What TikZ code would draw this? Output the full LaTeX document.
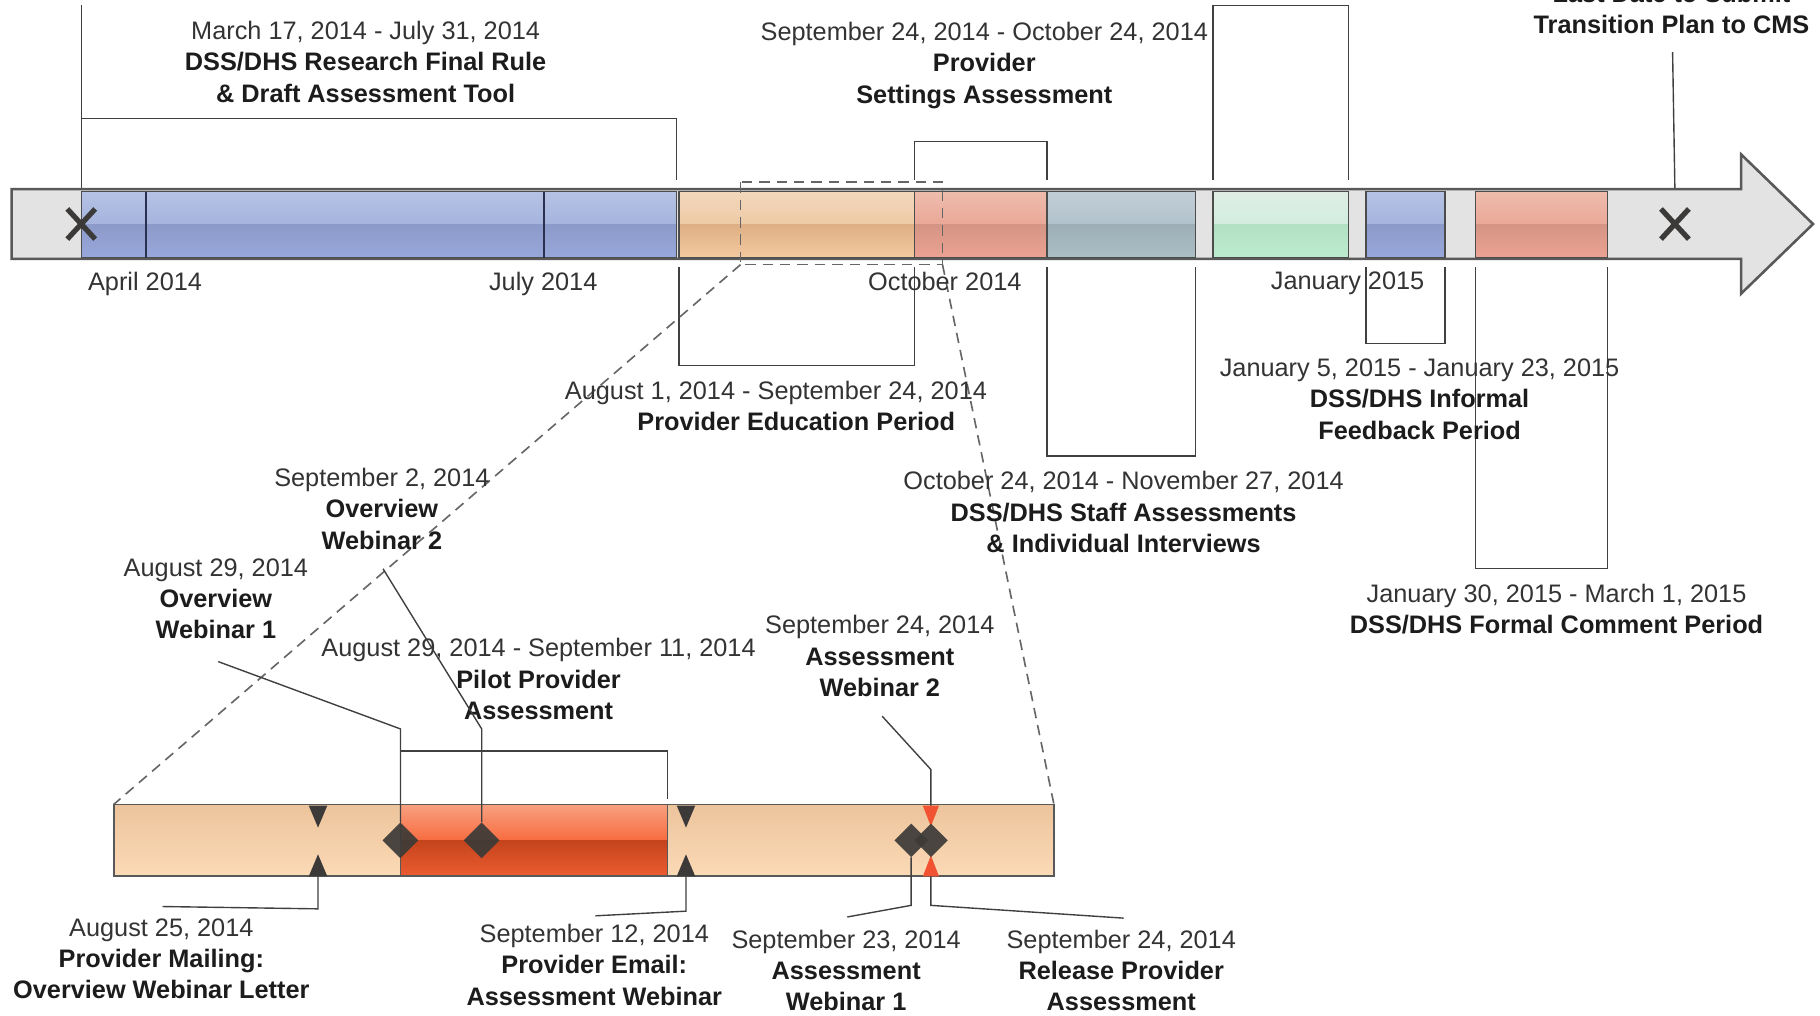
\documentclass[tikz,border=0pt]{standalone}
\usepackage{fontspec}
\setmainfont{Liberation Sans}
\usetikzlibrary{shapes.geometric}
\definecolor{dk}{HTML}{3C3A38}
\definecolor{redm}{HTML}{F05232}
\definecolor{txt}{HTML}{333333}
\definecolor{bld}{HTML}{1C1C1C}
\definecolor{linec}{HTML}{404040}
\definecolor{blA}{HTML}{B6C2E4}\definecolor{blB}{HTML}{A6B4DE}\definecolor{blC}{HTML}{8C9ACA}\definecolor{blD}{HTML}{98A8DA}
\definecolor{tnA}{HTML}{F2D8BC}\definecolor{tnB}{HTML}{EECAA6}\definecolor{tnC}{HTML}{DFAE84}\definecolor{tnD}{HTML}{F4CAA0}
\definecolor{slA}{HTML}{EEBCAC}\definecolor{slB}{HTML}{EAA898}\definecolor{slC}{HTML}{D49484}\definecolor{slD}{HTML}{ECA292}
\definecolor{gbA}{HTML}{C2CED6}\definecolor{gbB}{HTML}{B2C2CC}\definecolor{gbC}{HTML}{9EAEB6}\definecolor{gbD}{HTML}{AABEC6}
\definecolor{grA}{HTML}{E0EEE4}\definecolor{grB}{HTML}{D2ECE0}\definecolor{grC}{HTML}{B2E0C2}\definecolor{grD}{HTML}{BCECCE}
\definecolor{monl}{HTML}{2A3050}
\definecolor{bbA}{HTML}{ECC49C}\definecolor{bbB}{HTML}{FBDAB6}
\definecolor{rdA}{HTML}{F8A080}\definecolor{rdB}{HTML}{F86C40}\definecolor{rdC}{HTML}{C4441C}\definecolor{rdD}{HTML}{EC5C32}
\newcommand\glossseg[7]{%
  \shade[top color=#3,bottom color=#4] (#1,165) rectangle (#2,193);
  \shade[top color=#5,bottom color=#6] (#1,193) rectangle (#2,222);
  \draw[#7,line width=1.2pt] (#1,165) rectangle (#2,222);
}
\tikzset{
  lbl/.style={align=center, inner sep=0pt, anchor=north, text=txt,
    font=\fontsize{21.8}{27}\selectfont},
  conn/.style={draw=linec, line width=1.2pt},
  zoomline/.style={draw=black!60, line width=1.4pt, dash pattern=on 9pt off 6pt},
  xmark/.style={draw=dk, line width=4.5pt},
  dia/.style={diamond, fill=dk, fill opacity=0.92, inner sep=0pt, minimum size=31pt},
}
\begin{document}
\begin{tikzpicture}[x=1pt,y=-1pt]
\useasboundingbox (0,0) rectangle (1568,875);
\fill[white] (0,0) rectangle (1568,875);

% ---------- brackets / lines behind the bar ----------
\draw[conn] (70,4) -- (70,163);
\draw[conn] (70,155) -- (70,102) -- (583,102) -- (583,155);
\draw[conn] (788,155) -- (788,122) -- (902,122) -- (902,155);
\draw[conn] (1045,155) -- (1045,5) -- (1162,5) -- (1162,155);
\draw[conn] (1441,45) -- (1443,165);

\draw[conn] (585,230) -- (585,315) -- (788,315) -- (788,230);
\draw[conn] (902,230) -- (902,393) -- (1030,393) -- (1030,230);
\draw[conn] (1177,230) -- (1177,296) -- (1245,296) -- (1245,230);
\draw[conn] (1271,230) -- (1271,490) -- (1385,490) -- (1385,230);

% ---------- main arrow ----------
\path[fill=black!11, draw=black!65, line width=2.2pt, line join=miter]
  (10,163) -- (1500,163) -- (1500,133) -- (1562,193) -- (1500,253) -- (1500,223) -- (10,223) -- cycle;

\glossseg{70}{583}{blA}{blB}{blC}{blD}{draw=black!70}
\glossseg{585}{788}{tnA}{tnB}{tnC}{tnD}{draw=black!70}
\glossseg{788}{902}{slA}{slB}{slC}{slD}{draw=black!70}
\glossseg{902}{1030}{gbA}{gbB}{gbC}{gbD}{draw=black!70}
\glossseg{1045}{1162}{grA}{grB}{grC}{grD}{draw=black!70}
\glossseg{1177}{1245}{blA}{blB}{blC}{blD}{draw=black!70}
\glossseg{1271}{1385}{slA}{slB}{slC}{slD}{draw=black!70}
\draw[draw=monl, line width=1.6pt] (126,165) -- (126,222) (469,165) -- (469,222);

\coordinate (x1) at (70,193);
\coordinate (x2) at (1443,193);
\draw[xmark] ([shift={(-12,-13)}]x1) -- ([shift={(12,13)}]x1)
             ([shift={(-12,13)}]x1) -- ([shift={(12,-13)}]x1);
\draw[xmark] ([shift={(-12,-13)}]x2) -- ([shift={(12,13)}]x2)
             ([shift={(-12,13)}]x2) -- ([shift={(12,-13)}]x2);

% ---------- zoom ----------
\coordinate (za) at (638,157);
\coordinate (zb) at (812,228);
\coordinate (zc) at (638,228);
\draw[zoomline] (za) rectangle (zb);

\coordinate (ba) at (98,693);
\coordinate (bb) at (908,693);
\draw[zoomline] (zc) -- (ba);
\draw[zoomline] (zb) -- (bb);

% ---------- bottom bar ----------
\shade[top color=bbA, bottom color=bbB] (98,693) rectangle (908,755);
\shade[top color=rdA, bottom color=rdB] (345,693) rectangle (575,724);
\shade[top color=rdC, bottom color=rdD] (345,724) rectangle (575,755);
\draw[black!65, line width=1.5pt] (98,693) rectangle (908,755);
\draw[black!65, line width=1.2pt] (345,693) -- (345,755) (575,693) -- (575,755);
\draw[conn] (345,688) -- (345,647) -- (575,647) -- (575,688);

% triangles
\fill[dk] (266,694) -- (282,694) -- (274,713) -- cycle;
\fill[dk] (266,755) -- (282,755) -- (274,736) -- cycle;
\fill[dk] (583,694) -- (599,694) -- (591,713) -- cycle;
\fill[dk] (583,755) -- (599,755) -- (591,736) -- cycle;
\fill[redm] (795,694) -- (809,694) -- (802,712) -- cycle;
\fill[redm] (795,755) -- (809,755) -- (802,737) -- cycle;
\coordinate (t1) at (274,755);
\coordinate (t2) at (591,755);
\coordinate (t3) at (802,694);
\coordinate (t4) at (802,755);

% diamonds
\node[dia] (d1) at (345,724) {};
\node[dia] (d2) at (415,724) {};
\node[dia, minimum size=29pt] (d3) at (785,724) {};
\node[dia, minimum size=29pt] (d4) at (802,724) {};

% ---------- labels ----------
\node[lbl] (l1) at (315,18) {March 17, 2014 - July 31, 2014\\\textbf{\color{bld}DSS/DHS Research Final Rule}\\\textbf{\color{bld}\& Draft Assessment Tool}};
\node[lbl] (l2) at (848,19) {September 24, 2014 - October 24, 2014\\\textbf{\color{bld}Provider}\\\textbf{\color{bld}Settings Assessment}};
\node[lbl] (l3) at (1440,-14) {\textbf{\color{bld}Last Date to Submit}\\\textbf{\color{bld}Transition Plan to CMS}};
\node[lbl] (l4) at (686,328) {August 1, 2014 - September 24, 2014\hspace*{35pt}\\\textbf{\color{bld}Provider Education Period}};
\node[lbl] (l5) at (1223,309) {January 5, 2015 - January 23, 2015\\\textbf{\color{bld}DSS/DHS Informal}\\\textbf{\color{bld}Feedback Period}};
\node[lbl] (l6) at (968,406) {October 24, 2014 - November 27, 2014\\\textbf{\color{bld}DSS/DHS Staff Assessments}\\\textbf{\color{bld}\& Individual Interviews}};
\node[lbl] (l7) at (1341,503) {January 30, 2015 - March 1, 2015\\\textbf{\color{bld}DSS/DHS Formal Comment Period}};

\node[lbl] (ma) at (125,234) {April 2014};
\node[lbl] (mb) at (468,234) {July 2014};
\node[lbl] (mc) at (814,234) {October 2014};
\node[lbl] (md) at (1161,234) {January 2015};

\node[lbl] (l8) at (329,403) {September 2, 2014\\\textbf{\color{bld}Overview}\\\textbf{\color{bld}Webinar 2}};
\node[lbl] (l9) at (186,481) {August 29, 2014\\\textbf{\color{bld}Overview}\\\textbf{\color{bld}Webinar 1}};
\node[lbl] (l10) at (464,550) {August 29, 2014 - September 11, 2014\\\textbf{\color{bld}Pilot Provider}\\\textbf{\color{bld}Assessment}};
\node[lbl] (l11) at (758,530) {September 24, 2014\\\textbf{\color{bld}Assessment}\\\textbf{\color{bld}Webinar 2}};
\node[lbl] (l12) at (139,791) {August 25, 2014\\\textbf{\color{bld}Provider Mailing:}\\\textbf{\color{bld}Overview Webinar Letter}};
\node[lbl] (l13) at (512,796) {September 12, 2014\\\textbf{\color{bld}Provider Email:}\\\textbf{\color{bld}Assessment Webinar}};
\node[lbl] (l14) at (729,801) {September 23, 2014\\\textbf{\color{bld}Assessment}\\\textbf{\color{bld}Webinar 1}};
\node[lbl] (l15) at (966,801) {September 24, 2014\\\textbf{\color{bld}Release Provider}\\\textbf{\color{bld}Assessment}};

% ---------- connectors ----------
\coordinate (c9) at (188,570);
\coordinate (c8) at (330,490);
\coordinate (c11) at (760,617);
\coordinate (c12) at (140,781);
\coordinate (c13) at (513,789);
\coordinate (c14) at (730,790);
\coordinate (c15) at (968,791);
\draw[conn] (c9) -- (345,628) -- (d1.north);
\draw[conn] (c8) -- (415,628) -- (d2.north);
\draw[conn] (c11) -- (802,663) -- (t3);
\draw[conn] (t1) -- (274,783) -- (c12);
\draw[conn] (t2) -- (591,785) -- (c13);
\draw[conn] (d3.south) -- (785,780) -- (c14);
\draw[conn] (t4) -- (802,780) -- (c15);
\end{tikzpicture}
\end{document}
